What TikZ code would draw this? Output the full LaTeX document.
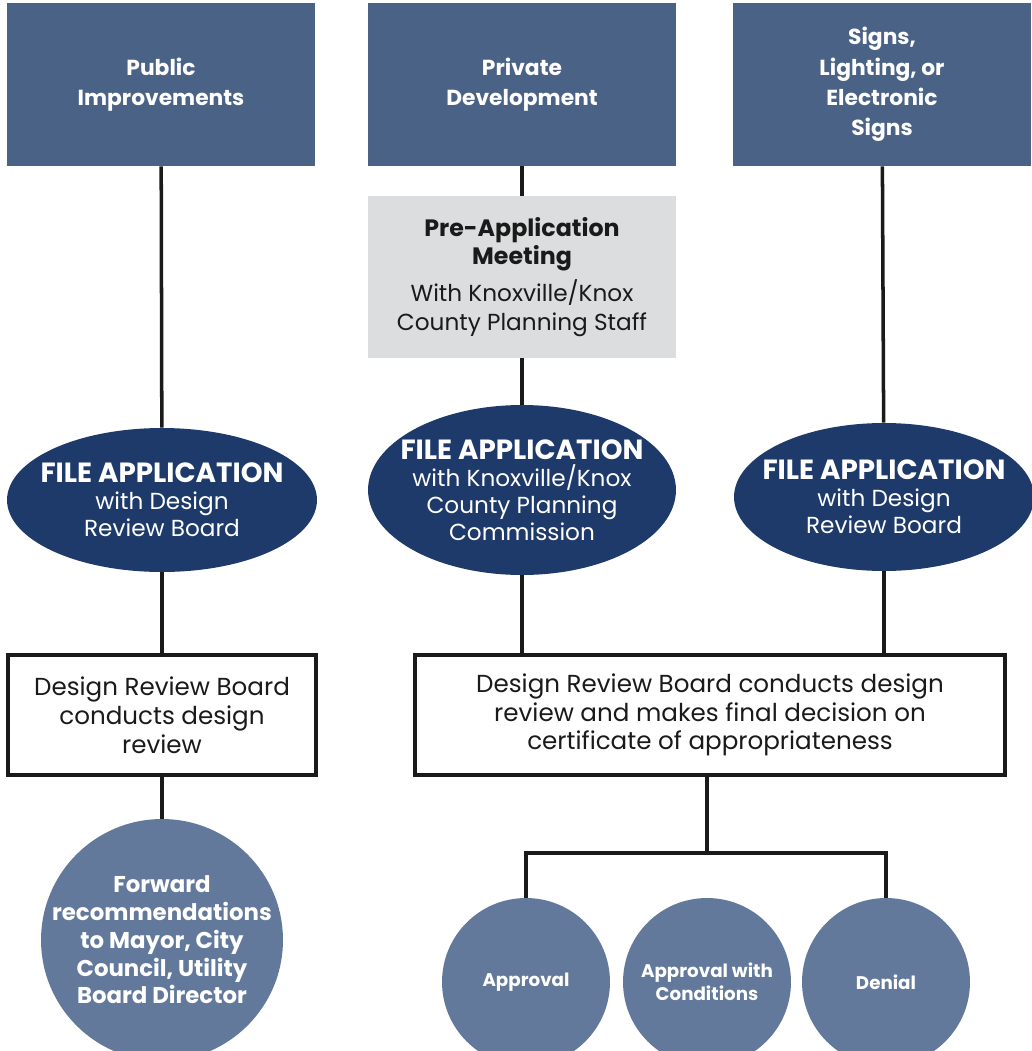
\documentclass[tikz,border=0pt]{standalone}
\usepackage{fontspec}
\setmainfont{Poppins}
\usepackage{tikz}
\usetikzlibrary{shapes.geometric}
\usepackage{xcolor}
\definecolor{slateblue}{HTML}{4A6286}
\definecolor{navyblue}{HTML}{1E3A6B}
\definecolor{steelblue}{HTML}{62799B}
\definecolor{palegray}{HTML}{DCDDDE}
\definecolor{inkblack}{HTML}{1A1A1A}

\tikzset{
	topbox/.style={fill=slateblue, text=white, align=center, inner sep=0pt,
		minimum width=6.16cm, minimum height=3.26cm,
		font=\bfseries\fontsize{12.4}{17.2}\selectfont},
	fileapp/.style={ellipse, fill=navyblue, text=white, align=center, inner sep=-40pt,
		font=\fontsize{13.2}{15.4}\selectfont},
	reviewbox/.style={draw=inkblack, line width=2pt, fill=white, text=inkblack,
		align=center, inner sep=0pt, minimum height=2.4cm,
		font=\fontsize{14}{16.4}\selectfont},
	outcome/.style={circle, fill=steelblue, text=white, align=center, inner sep=-20pt,
		font=\bfseries\fontsize{10.4}{13}\selectfont},
	link/.style={line width=2pt, draw=inkblack},
}
\newcommand{\headline}[1]{{\bfseries\fontsize{13.5}{16.4}\selectfont #1}}
\newcommand{\bigheadline}[1]{{\bfseries\fontsize{15.8}{16.4}\selectfont #1}}

\begin{document}
\begin{tikzpicture}[x=0.02cm, y=-0.02cm]
		\useasboundingbox (0,0) rectangle (1031,1051);
		
		% three kinds of project
		\node[topbox] (public) at (161,84.5) {Public\\Improvements};
		\node[topbox] (private) at (522,84.5) {Private\\Development};
		\node[topbox, minimum width=5.96cm] (signs) at (882,84.5) {Signs,\\Lighting, or\\Electronic\\Signs};
		
		\node[fill=palegray, align=center, inner sep=0pt, minimum width=6.16cm,
		minimum height=3.24cm, text=inkblack, font=\fontsize{13.2}{16}\selectfont]
		(preapp) at (522,277)
		{\headline{Pre-Application}\\\headline{Meeting}\\[4pt]
			With Knoxville/Knox\\County Planning Staff};
		
		% file application
		\node[fileapp, minimum width=6.2cm, minimum height=2.88cm] (fileL) at (162,500)
		{\bigheadline{FILE APPLICATION}\\with Design\\Review Board};
		\node[fileapp, minimum width=6.16cm, minimum height=3.4cm] (fileM) at (522,490)
		{\bigheadline{FILE APPLICATION}\\with Knoxville/Knox\\County Planning\\Commission};
		\node[fileapp, minimum width=6cm, minimum height=2.96cm] (fileR) at (884,497)
		{\bigheadline{FILE APPLICATION}\\with Design\\Review Board};
		
		% design review
		\node[reviewbox, minimum width=6.16cm] (reviewL) at (162,715)
		{Design Review Board\\conducts design\\review};
		\node[reviewbox, minimum width=11.8cm] (reviewR) at (710,715)
		{Design Review Board conducts design\\review and makes final decision on\\certificate of appropriateness};
		
		% results
		\node[outcome, minimum size=4.84cm, font=\bfseries\fontsize{13}{15.8}\selectfont]
		(forward) at (162,940)
		{Forward\\recommendations\\to Mayor, City\\Council, Utility\\Board Director};
		\node[outcome, minimum size=3.36cm] (approval) at (526,982) {Approval};
		\node[outcome, minimum size=3.36cm] (conditions) at (707,982) {Approval with\\Conditions};
		\node[outcome, minimum size=3.36cm] (denial) at (886,982) {Denial};
		
		\coordinate (split) at (707,853);
		
		\draw[link] (public) -- (fileL);
		\draw[link] (private) -- (preapp);
		\draw[link] (preapp) -- (fileM);
		\draw[link] (signs) -- (fileR);
		\draw[link] (fileL) -- (reviewL);
		\draw[link] (fileM) -- (fileM |- reviewR.north);
		\draw[link] (fileR) -- (fileR |- reviewR.north);
		\draw[link] (reviewL) -- (forward);
		\draw[link] (reviewR.south -| split) -- (split);
		\draw[link] (approval) |- (split) -| (denial);
		\end{tikzpicture}
\end{document}
